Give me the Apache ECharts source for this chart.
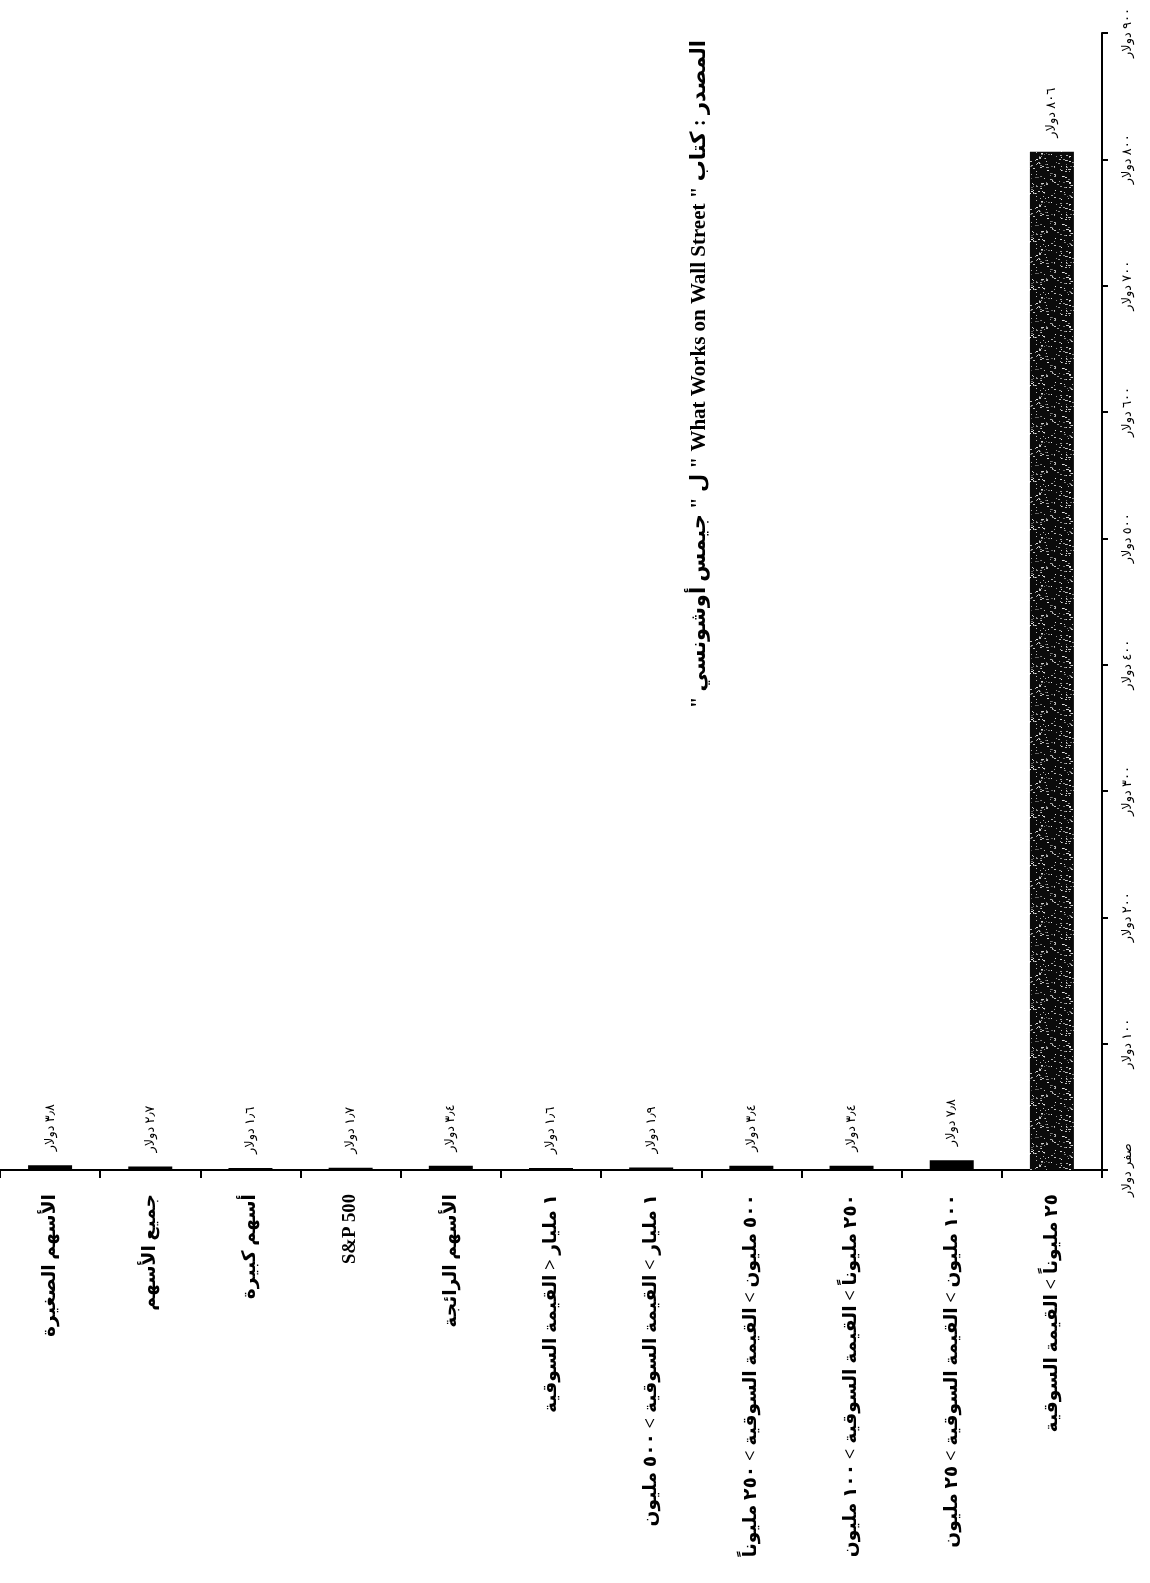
<!DOCTYPE html>
<html>
<head>
<meta charset="utf-8">
<script src="https://cdn.jsdelivr.net/npm/echarts@6/dist/echarts.min.js"></script>
<style>
  html, body { margin: 0; padding: 0; background: #ffffff; }
  #chart { width: 1150px; height: 1583px; }
</style>
</head>
<body>
<div id="chart"></div>
<script>
// Growth of one dollar by stock group (values in dollars)
const categories = [
  'الأسهم الصغيرة',
  'جميع الأسهم',
  'أسهم كبيرة',
  'S&P 500',
  'الأسهم الرائجة',
  '١ مليار < القيمة السوقية',
  '١ مليار > القيمة السوقية > ٥٠٠ مليون',
  '٥٠٠ مليون > القيمة السوقية > ٢٥٠ مليوناً',
  '٢٥٠ مليوناً > القيمة السوقية > ١٠٠ مليون',
  '١٠٠ مليون > القيمة السوقية > ٢٥ مليون',
  '٢٥ مليوناً > القيمة السوقية'
];
const values = [3.8, 2.7, 1.6, 1.7, 3.4, 1.6, 1.9, 3.4, 3.4, 7.8, 806];
const tickLabels = ['صفر دولار', '١٠٠ دولار', '٢٠٠ دولار', '٣٠٠ دولار', '٤٠٠ دولار',
                    '٥٠٠ دولار', '٦٠٠ دولار', '٧٠٠ دولار', '٨٠٠ دولار', '٩٠٠ دولار'];
const sourceNote = 'المصدر : كتاب " What Works on Wall Street " ل " جيمس أوشونسي "';

// Bidi isolates so mixed Arabic / Latin strings lay out right-to-left
const RLI = '\u2067', PDI = '\u2069';
const rtl = s => RLI + s + PDI;

const arabicDigits = '٠١٢٣٤٥٦٧٨٩';
function toArabic(v) {
  return String(v).replace(/[0-9]/g, d => arabicDigits[+d]).replace('.', '٫');
}

const FONT = "'Liberation Serif', 'DejaVu Sans', serif";

// Speckled fill for the tall bar
function speckle() {
  const c = document.createElement('canvas');
  c.width = 48; c.height = 48;
  const g = c.getContext('2d');
  g.fillStyle = '#0a0a0a';
  g.fillRect(0, 0, 48, 48);
  let s = 12345;
  const next = () => (s = (s * 1103515245 + 12345) % 2147483648) / 2147483648;
  for (let i = 0; i < 170; i++) {
    const x = Math.floor(next() * 48), y = Math.floor(next() * 48);
    const shade = 90 + Math.floor(next() * 150);
    g.fillStyle = 'rgb(' + shade + ',' + shade + ',' + shade + ')';
    g.fillRect(x, y, 1 + Math.floor(next() * 2), 1);
  }
  return c;
}

const chart = echarts.init(document.getElementById('chart'), null, { renderer: 'canvas' });
const lastIdx = values.length - 1;

chart.setOption({
  backgroundColor: '#ffffff',
  animation: false,
  grid: { left: -12, right: 48, top: 33, bottom: 413, containLabel: false },
  xAxis: {
    type: 'category',
    data: categories,
    position: 'bottom',
    axisLine: { show: true, lineStyle: { color: '#000', width: 2 } },
    axisTick: { show: true, length: 8, lineStyle: { color: '#000', width: 2 } },
    axisLabel: {
      interval: 0,
      rotate: 90,
      margin: 24,
      color: '#000',
      fontSize: 18.7,
      fontWeight: 'bold',
      fontFamily: FONT,
      formatter: v => rtl(v)
    },
    splitLine: { show: false }
  },
  yAxis: {
    type: 'value',
    position: 'right',
    min: 0,
    max: 900,
    interval: 100,
    axisLine: { show: true, lineStyle: { color: '#000', width: 2 } },
    axisTick: { show: true, length: 6, lineStyle: { color: '#000', width: 2 } },
    splitLine: { show: false },
    axisLabel: {
      rotate: 90,
      align: 'center',
      verticalAlign: 'middle',
      margin: 26,
      color: '#000',
      fontSize: 13,
      fontFamily: FONT,
      formatter: v => rtl(tickLabels[Math.round(v / 100)])
    }
  },
  series: [{
    type: 'bar',
    barWidth: 44,
    data: values.map((v, i) => i === lastIdx
      ? { value: v, itemStyle: { color: { image: speckle(), repeat: 'repeat' } } }
      : { value: v }),
    itemStyle: { color: '#000' },
    label: {
      show: true,
      position: 'top',
      distance: 14,
      rotate: 90,
      align: 'left',
      verticalAlign: 'middle',
      color: '#000',
      fontSize: 13,
      fontFamily: FONT,
      formatter: p => rtl(toArabic(p.value) + ' دولار')
    }
  }],
  graphic: [{
    type: 'text',
    x: 700,
    y: 40,
    rotation: Math.PI / 2,
    style: {
      text: rtl(sourceNote),
      align: 'right',
      verticalAlign: 'middle',
      fill: '#000',
      font: "bold 21px 'Liberation Serif', 'DejaVu Sans', serif"
    }
  }]
});
</script>
</body>
</html>
